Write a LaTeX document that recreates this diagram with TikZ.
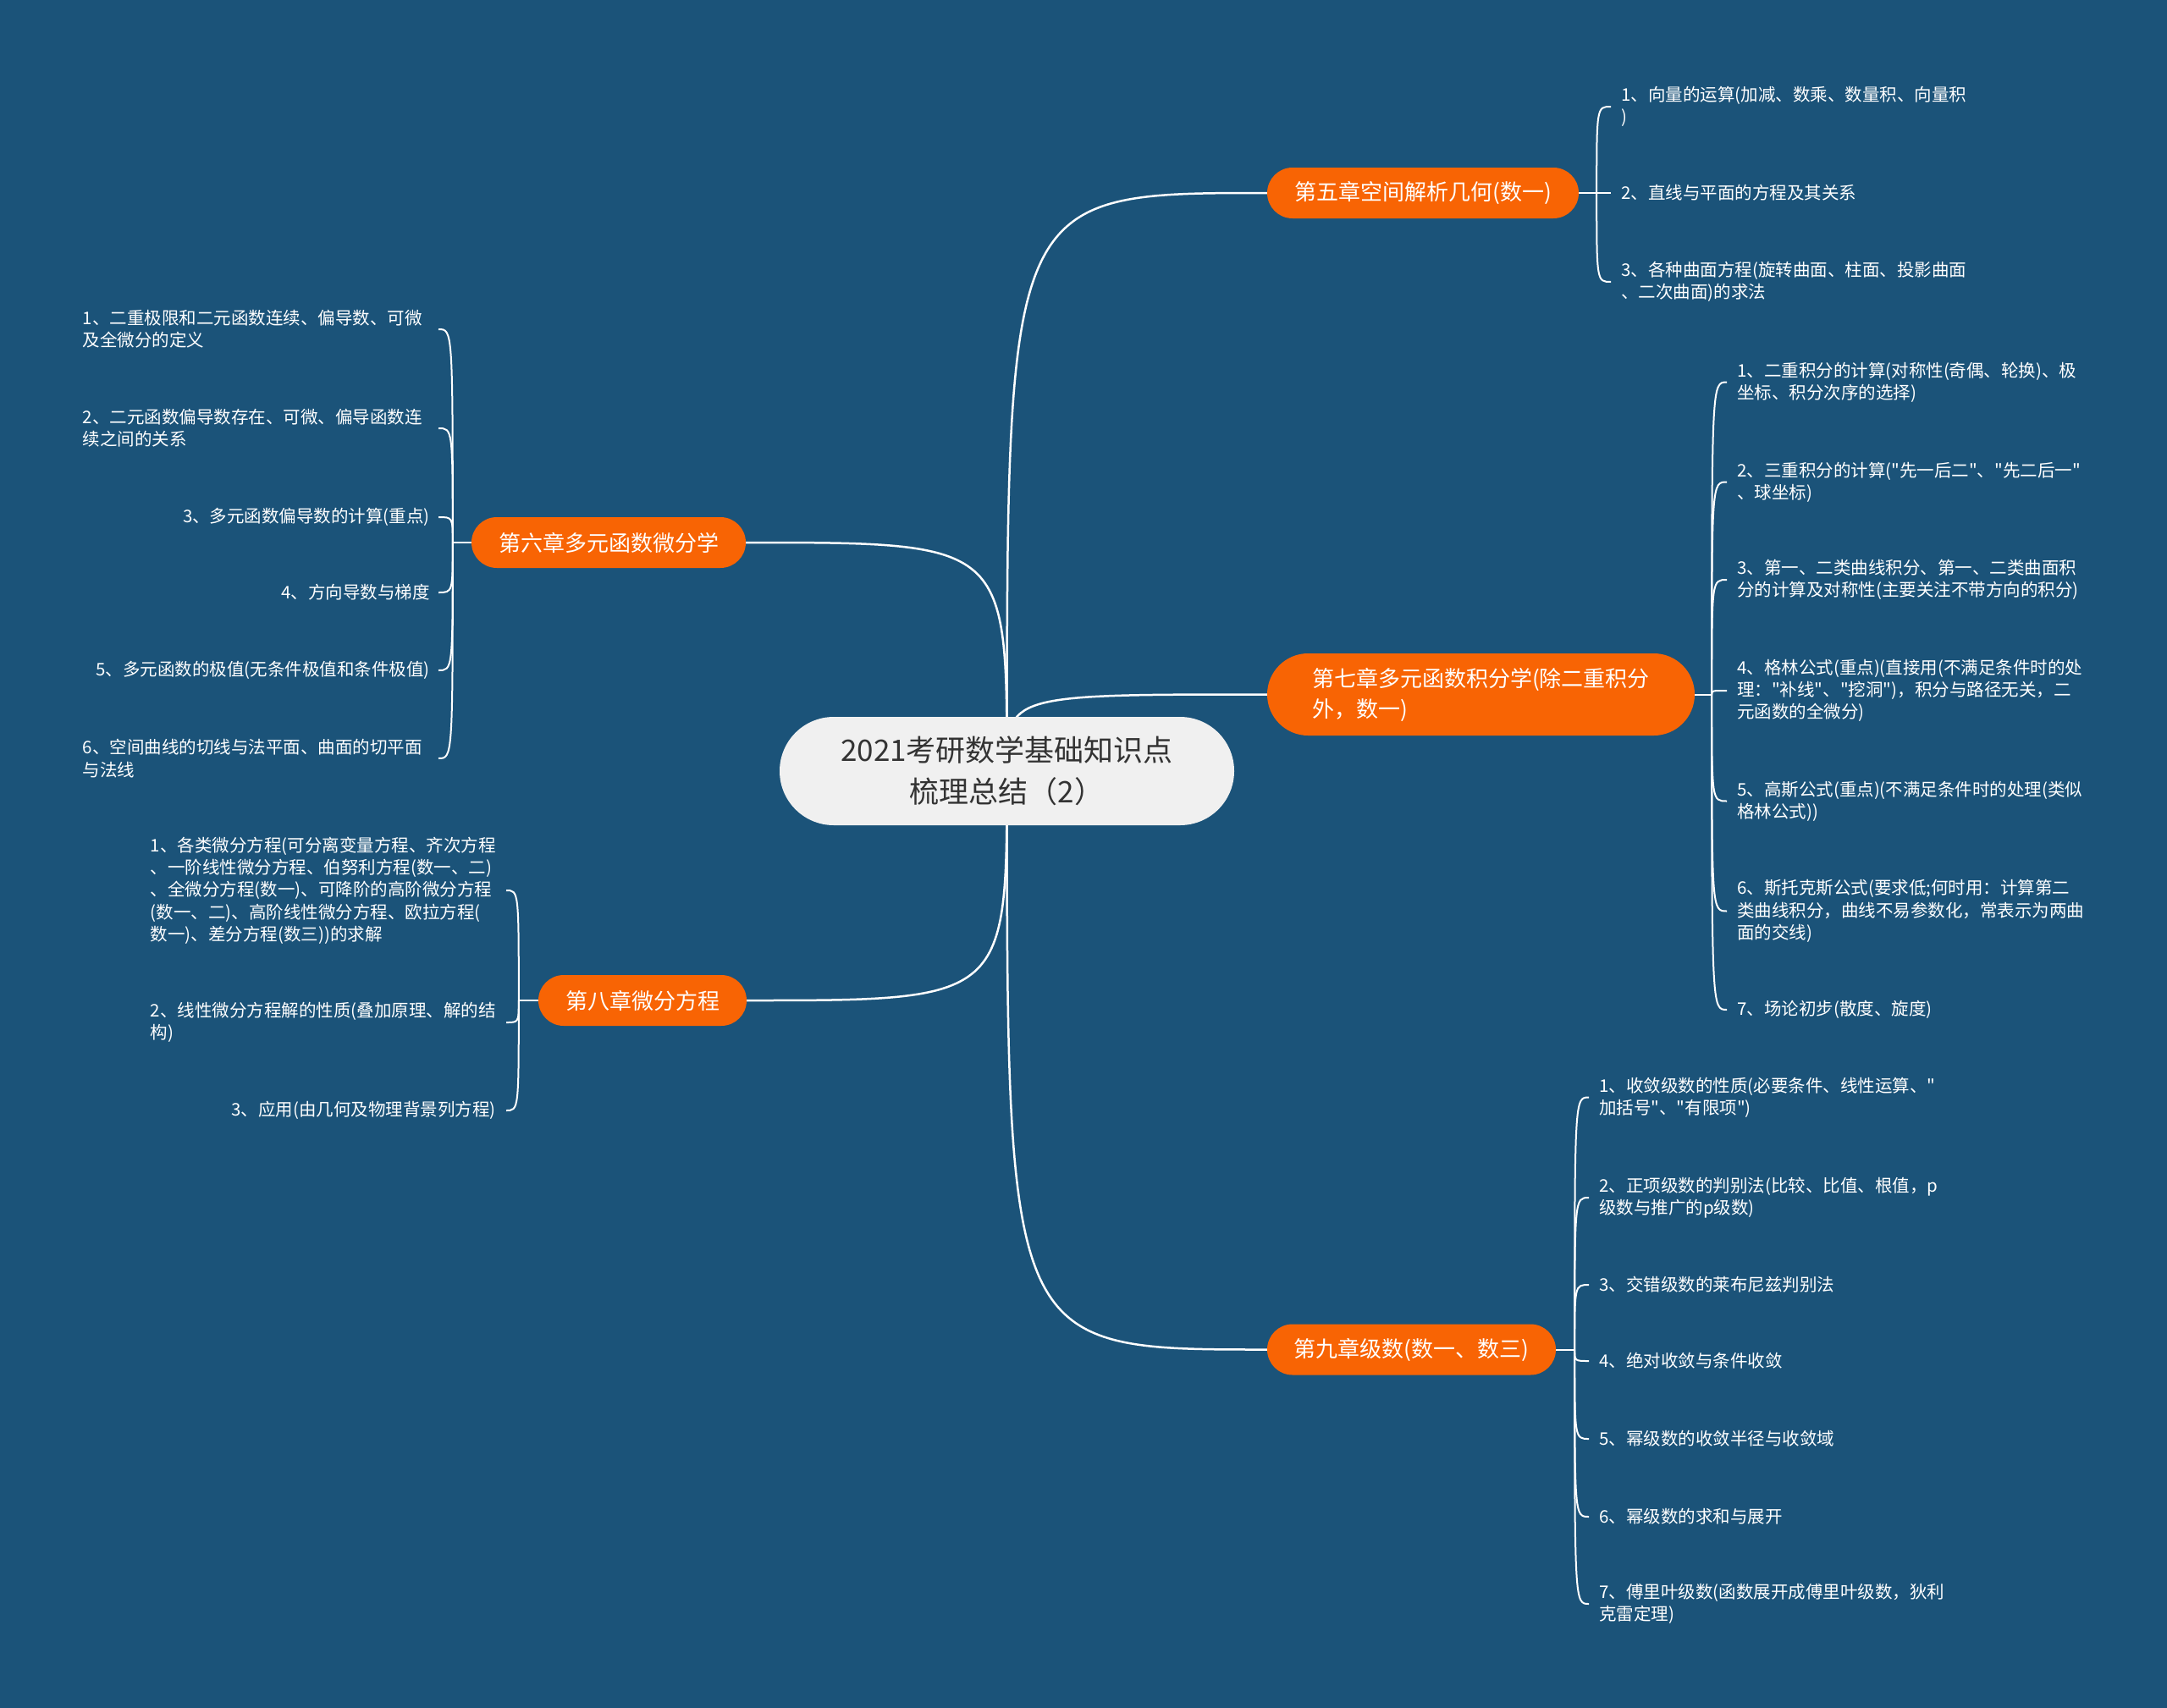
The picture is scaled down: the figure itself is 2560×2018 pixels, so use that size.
\documentclass[tikz,border=0pt]{standalone}
\usepackage{fontspec}
\setmainfont{Noto Sans CJK SC}[Ligatures=TeXOff]
\usetikzlibrary{calc}
\definecolor{bgblue}{HTML}{1B5379}
\definecolor{topicor}{HTML}{F86404}
\definecolor{rootfill}{HTML}{F0F0F0}
\definecolor{roottext}{HTML}{333333}
\pgfdeclarelayer{bg}
\pgfsetlayers{bg,main}
\tikzset{
  rootnode/.style={rectangle, fill=rootfill, text=roottext, rounded corners=63.9pt,
    minimum width=537pt, minimum height=128pt, inner sep=0pt, align=center,
    font=\fontsize{35}{49}\selectfont},
  topic/.style={rectangle, fill=topicor, text=white, rounded corners=29.9pt,
    minimum height=60pt, inner xsep=0pt, inner ysep=0pt, align=center,
    font=\fontsize{26}{36}\selectfont},
  leafr/.style={text=white, anchor=west, inner xsep=12pt, inner ysep=0pt, align=left,
    font=\fontsize{20.5}{26.3}\selectfont},
  leafl/.style={text=white, anchor=east, inner xsep=10pt, inner ysep=0pt, align=left,
    font=\fontsize{20.5}{26.3}\selectfont},
  mainlink/.style={draw=white, line width=2.5pt},
  sublink/.style={draw=white, line width=2pt},
}
\begin{document}
\begin{tikzpicture}[x=1pt,y=-1pt]
\begin{pgfonlayer}{bg}
\fill[bgblue] (0,0) rectangle (2560,2018);
\end{pgfonlayer}
\useasboundingbox (0,0) rectangle (2560,2018);

% root
\node[rootnode] (root) at (1189.5,911) {2021考研数学基础知识点\\梳理总结（2）};

% topics
\node[topic, minimum width=368pt] (t5) at (1681,228) {第五章空间解析几何(数一)};
\node[topic, minimum width=324pt] (t6) at (719,641) {第六章多元函数微分学};
\node[topic, minimum width=505pt, minimum height=97pt, rounded corners=48.4pt, align=left] (t7) at (1749.5,820.5) {第七章多元函数积分学(除二重积分\\外，数一)};
\node[topic, minimum width=246pt] (t8) at (759,1182) {第八章微分方程};
\node[topic, minimum width=341pt] (t9) at (1667.5,1594.5) {第九章级数(数一、数三)};

% spine points
\coordinate (s5) at ($(t5.east)+(21,0)$);
\coordinate (s7) at ($(t7.east)+(20,0)$);
\coordinate (s9) at ($(t9.east)+(22,0)$);
\coordinate (s6) at ($(t6.west)+(-22,0)$);
\coordinate (s8) at ($(t8.west)+(-23,0)$);

% leaves of t5
\node[leafr] (a1) at (1903,126) {1、向量的运算(加减、数乘、数量积、向量积\\)};
\node[leafr] (a2) at (1903,228) {2、直线与平面的方程及其关系};
\node[leafr] (a3) at (1903,333) {3、各种曲面方程(旋转曲面、柱面、投影曲面\\、二次曲面)的求法};

% leaves of t7
\node[leafr] (b1) at (2040,451.5) {1、二重积分的计算(对称性(奇偶、轮换)、极\\坐标、积分次序的选择)};
\node[leafr] (b2) at (2040,569.5) {2、三重积分的计算("先一后二"、"先二后一"\\、球坐标)};
\node[leafr] (b3) at (2040,685) {3、第一、二类曲线积分、第一、二类曲面积\\分的计算及对称性(主要关注不带方向的积分)};
\node[leafr] (b4) at (2040,816) {4、格林公式(重点)(直接用(不满足条件时的处\\理："补线"、"挖洞")，积分与路径无关，二\\元函数的全微分)};
\node[leafr] (b5) at (2040,946.5) {5、高斯公式(重点)(不满足条件时的处理(类似\\格林公式))};
\node[leafr] (b6) at (2040,1076.5) {6、斯托克斯公式(要求低;何时用：计算第二\\类曲线积分，曲线不易参数化，常表示为两曲\\面的交线)};
\node[leafr] (b7) at (2040,1193) {7、场论初步(散度、旋度)};

% leaves of t9
\node[leafr] (c1) at (1877,1296.5) {1、收敛级数的性质(必要条件、线性运算、"\\加括号"、"有限项")};
\node[leafr] (c2) at (1877,1415) {2、正项级数的判别法(比较、比值、根值，p\\级数与推广的p级数)};
\node[leafr] (c3) at (1877,1518) {3、交错级数的莱布尼兹判别法};
\node[leafr] (c4) at (1877,1608) {4、绝对收敛与条件收敛};
\node[leafr] (c5) at (1877,1700) {5、幂级数的收敛半径与收敛域};
\node[leafr] (c6) at (1877,1792) {6、幂级数的求和与展开};
\node[leafr] (c7) at (1877,1895) {7、傅里叶级数(函数展开成傅里叶级数，狄利\\克雷定理)};

% leaves of t6
\node[leafl, text width=410pt] (d1) at (518,389) {1、二重极限和二元函数连续、偏导数、可微\\及全微分的定义};
\node[leafl, text width=410pt] (d2) at (518,506) {2、二元函数偏导数存在、可微、偏导函数连\\续之间的关系};
\node[leafl] (d3) at (518,611) {3、多元函数偏导数的计算(重点)};
\node[leafl] (d4) at (518,700) {4、方向导数与梯度};
\node[leafl] (d5) at (518,792) {5、多元函数的极值(无条件极值和条件极值)};
\node[leafl, text width=410pt] (d6) at (518,896) {6、空间曲线的切线与法平面、曲面的切平面\\与法线};

% leaves of t8
\node[leafl, inner xsep=12pt, text width=408pt] (e1) at (598,1052) {1、各类微分方程(可分离变量方程、齐次方程\\、一阶线性微分方程、伯努利方程(数一、二)\\、全微分方程(数一)、可降阶的高阶微分方程\\(数一、二)、高阶线性微分方程、欧拉方程(\\数一)、差分方程(数三))的求解};
\node[leafl, inner xsep=12pt, text width=408pt] (e2) at (598,1208) {2、线性微分方程解的性质(叠加原理、解的结\\构)};
\node[leafl, inner xsep=12pt] (e3) at (598,1312) {3、应用(由几何及物理背景列方程)};

\begin{pgfonlayer}{bg}
% main links
\draw[mainlink] (root.center) .. controls (root.center |- t5.west) .. (t5.west);
\draw[mainlink] (root.center) .. controls (root.center |- t7.west) .. (t7.west);
\draw[mainlink] (root.center) .. controls (root.center |- t9.west) .. (t9.west);
\draw[mainlink] (root.center) .. controls (root.center |- t6.east) .. (t6.east);
\draw[mainlink] (root.center) .. controls (root.center |- t8.east) .. (t8.east);

% sub links
\draw[sublink] (t5.east) -- (s5);
\foreach \l in {a1,a2,a3} {\draw[sublink] (s5) .. controls (s5 |- \l.west) .. (\l.west);}
\draw[sublink] (t7.east) -- (s7);
\foreach \l in {b1,b2,b3,b4,b5,b6,b7} {\draw[sublink] (s7) .. controls (s7 |- \l.west) .. (\l.west);}
\draw[sublink] (t9.east) -- (s9);
\foreach \l in {c1,c2,c3,c4,c5,c6,c7} {\draw[sublink] (s9) .. controls (s9 |- \l.west) .. (\l.west);}
\draw[sublink] (t6.west) -- (s6);
\foreach \l in {d1,d2,d3,d4,d5,d6} {\draw[sublink] (s6) .. controls (s6 |- \l.east) .. (\l.east);}
\draw[sublink] (t8.west) -- (s8);
\foreach \l in {e1,e2,e3} {\draw[sublink] (s8) .. controls (s8 |- \l.east) .. (\l.east);}
\end{pgfonlayer}
\end{tikzpicture}
\end{document}
